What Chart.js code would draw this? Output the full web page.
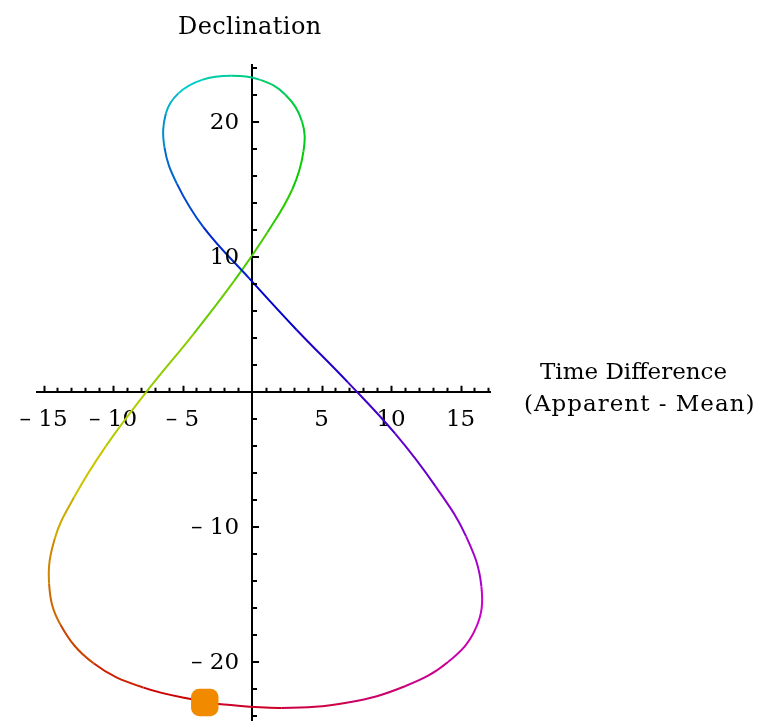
<!DOCTYPE html>
<html>
<head>
<meta charset="utf-8">
<script src="https://cdn.jsdelivr.net/npm/chart.js@4.4.0/dist/chart.umd.min.js"></script>
<style>
  html, body { margin: 0; padding: 0; background: #fff; }
  #wrap { position: relative; width: 763px; height: 721px; overflow: hidden; }
  canvas { position: absolute; left: 0; top: 0; }
  .lbl { position: absolute; font-family: 'DejaVu Serif', serif; color: #000; white-space: nowrap; }
</style>
</head>
<body>
<div id="wrap">
  <canvas id="analemma" width="763" height="721"></canvas>
  <div class="lbl" id="ylabel" style="left:178px; top:12px; font-size:24px; letter-spacing:0.4px;">Declination</div>
  <div class="lbl" id="xlabel1" style="left:540px; top:358px; font-size:23px;">Time Difference</div>
  <div class="lbl" id="xlabel2" style="left:524px; top:390px; font-size:23px; letter-spacing:1px;">(Apparent - Mean)</div>
</div>
<script>
// day of year for each reading (used for the hue of the curve)
const days = [1, 11, 21, 32, 42, 52, 60, 70, 80, 91, 101, 111, 121, 131, 141, 152, 162, 172,
  182, 192, 202, 213, 223, 233, 244, 254, 264, 274, 284, 294, 305, 315, 325, 335, 345, 355, 365]

// apparent - mean time, minutes (x)
const timeDiff = [-3.2, -7.8, -11.4, -13.8, -14.6, -14.2, -12.8, -10.5, -7.6, -4.2, -1.3, 1.1,
  2.9, 3.7, 3.6, 2.4, 0.6, -1.5, -3.6, -5.3, -6.2, -6.3, -5.4, -3.5, -0.2, 3.2, 6.9, 10.3,
  13.2, 15.4, 16.5, 16.1, 14.1, 11.0, 6.9, 2.1, -2.8]

// declination of the sun, degrees (y)
const declination = [-23.0, -21.9, -20.1, -17.2, -14.2, -10.9, -7.8, -4.0, 0.0, 4.3, 8.2, 11.8,
  15.0, 17.8, 20.0, 22.0, 23.1, 23.4, 23.1, 22.1, 20.6, 18.1, 15.4, 12.2, 8.4, 4.6, 0.7, -3.1,
  -7.0, -10.7, -14.4, -17.5, -20.0, -21.8, -23.0, -23.4, -23.1]

// current-date marker
const markerX = [-3.4]
const markerY = [-23.0]

const xTicks = [-15, -10, -5, 5, 10, 15]
const yTicks = [-20, -10, 10, 20]

function dayColor(d) {
    const h = Math.round((d - 1) / 365 * 360)
    return `hsl(${h}, 100%, 40%)`
}

const curvePoints = timeDiff.map((x, i) => ({ x: x, y: declination[i] }))
const markerPoints = markerX.map((x, i) => ({ x: x, y: markerY[i] }))

function fmtTick(v) {
    if (v < 0) return '\u2013 ' + Math.abs(v)
    return String(v)
}

const tickFont = { family: "'DejaVu Serif', serif", size: 23 }

// tick marks like the original plot (x ticks up, y ticks right) + y labels left of the axis
const tickMarks = {
    id: 'tickMarks',
    afterDraw(chart) {
        const { ctx, scales: { x, y } } = chart
        const x0 = x.getPixelForValue(0)
        const y0 = y.getPixelForValue(0)
        ctx.save()
        ctx.strokeStyle = '#000'
        ctx.lineWidth = 2
        ctx.beginPath()
        for (let v = Math.ceil(x.min); v <= Math.floor(x.max); v++) {
            if (v === 0) continue
            const px = Math.round(x.getPixelForValue(v)) + 0.5
            const len = v % 5 === 0 ? 6 : 4
            ctx.moveTo(px, y0)
            ctx.lineTo(px, y0 - len)
        }
        for (let v = -24; v <= 24; v += 2) {
            if (v === 0) continue
            const py = Math.round(y.getPixelForValue(v))
            const len = v % 10 === 0 ? 7 : 5
            ctx.moveTo(x0, py)
            ctx.lineTo(x0 + len, py)
        }
        ctx.stroke()

        ctx.fillStyle = '#000'
        ctx.font = `${tickFont.size}px ${tickFont.family}`
        ctx.textAlign = 'right'
        ctx.textBaseline = 'middle'
        yTicks.forEach(v => {
            ctx.fillText(fmtTick(v), x0 - 13, y.getPixelForValue(v) + 1)
        })
        ctx.restore()
    }
}

new Chart(document.getElementById('analemma'), {
    type: 'scatter',
    data: {
        datasets: [
            {
                data: markerPoints,
                pointStyle: 'rectRounded',
                pointRadius: 16,
                backgroundColor: '#f28a00',
                borderColor: '#f28a00',
                borderWidth: 0
            },
            {
                data: curvePoints,
                showLine: true,
                pointRadius: 0,
                borderWidth: 2,
                tension: 0.4,
                borderColor: '#c00',
                segment: {
                    borderColor: c => dayColor(days[c.p0DataIndex])
                }
            }
        ]
    },
    plugins: [tickMarks],
    options: {
        responsive: false,
        animation: false,
        events: [],
        layout: { autoPadding: false, padding: { left: 37, right: 273, top: 65, bottom: 0 } },
        plugins: { legend: { display: false }, tooltip: { enabled: false } },
        scales: {
            x: {
                type: 'linear',
                position: { y: 0 },
                min: -15.47,
                max: 17.12,
                afterFit: s => { s.height = 0 },
                grid: { display: false, drawTicks: false },
                border: { display: true, color: '#000', width: 2 },
                afterBuildTicks: s => { s.ticks = xTicks.map(v => ({ value: v })) },
                ticks: {
                    color: '#000',
                    font: tickFont,
                    padding: 14,
                    maxRotation: 0,
                    autoSkip: false,
                    callback: v => fmtTick(v)
                }
            },
            y: {
                type: 'linear',
                position: { x: 0 },
                min: -24.37,
                max: 24.2,
                afterFit: s => { s.width = 0 },
                grid: { display: false, drawTicks: false },
                border: { display: true, color: '#000', width: 2 },
                afterBuildTicks: s => { s.ticks = yTicks.map(v => ({ value: v })) },
                ticks: { display: false }
            }
        }
    }
})
</script>
</body>
</html>
